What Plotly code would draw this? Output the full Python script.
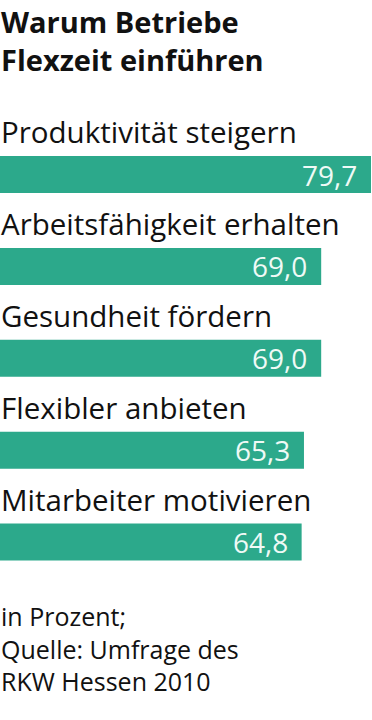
import plotly.graph_objects as go

categories = ["Produktivität steigern", "Arbeitsfähigkeit erhalten", "Gesundheit fördern",
              "Flexibler anbieten", "Mitarbeiter motivieren"]
values = [79.7, 69.0, 69.0, 65.3, 64.8]
value_labels = ["79,7", "69,0", "69,0", "65,3", "64,8"]
title_lines = ["Warum Betriebe", "Flexzeit einführen"]
footer_lines = ["in Prozent;", "Quelle: Umfrage des", "RKW Hessen 2010"]

W, H = 372, 720
BAR = "#2ca98b"
FONT = "Open Sans"

# pixel layout
bar0_center = 174.5
spacing = 91.9
bar_h = 37
px_per_unit = spacing
y_top = -bar0_center / px_per_unit
y_bot = (len(categories) - 1) + (H - (bar0_center + spacing * (len(categories) - 1))) / px_per_unit
x_max = 79.7 * W / 371

idx = list(range(len(categories)))
fig = go.Figure(go.Bar(
    x=values, y=idx, orientation="h", marker=dict(color=BAR, line=dict(width=0)),
    width=bar_h / px_per_unit, hoverinfo="skip",
))

ann = []
for i, (v, t) in enumerate(zip(values, value_labels)):
    ann.append(dict(x=v, xref="x", xanchor="right", y=i, yref="y", yanchor="middle",
                    text=t, showarrow=False, xshift=-12, yshift=0,
                    font=dict(family=FONT, size=28, color="#effaf6")))
for i, c in enumerate(categories):
    ann.append(dict(x=0, xref="paper", xanchor="left", y=i - (bar_h / 2 + 2) / px_per_unit,
                    yref="y", yanchor="bottom", text=c, showarrow=False,
                    font=dict(family=FONT, size=29.5, color="#111"), xshift=-1))
ann.append(dict(x=0, xref="paper", xanchor="left", align="left", y=1, yref="paper",
                yanchor="top", text="<b>" + "<br>".join(title_lines) + "</b>", showarrow=False,
                font=dict(family=FONT, size=29, color="#111"), xshift=-1))
ann.append(dict(x=0, xref="paper", xanchor="left", align="left", y=1 - 648 / H, yref="paper",
                yanchor="middle", text="<br>".join(footer_lines), showarrow=False,
                font=dict(family=FONT, size=25, color="#111"), xshift=-1))

fig.update_layout(
    width=W, height=H, margin=dict(l=0, r=0, t=0, b=0),
    paper_bgcolor="white", plot_bgcolor="white", showlegend=False,
    xaxis=dict(range=[0, x_max], visible=False, fixedrange=True),
    yaxis=dict(range=[y_bot, y_top], visible=False, fixedrange=True),
    annotations=ann,
)
fig.write_html("out.html", config={"displayModeBar": False})
